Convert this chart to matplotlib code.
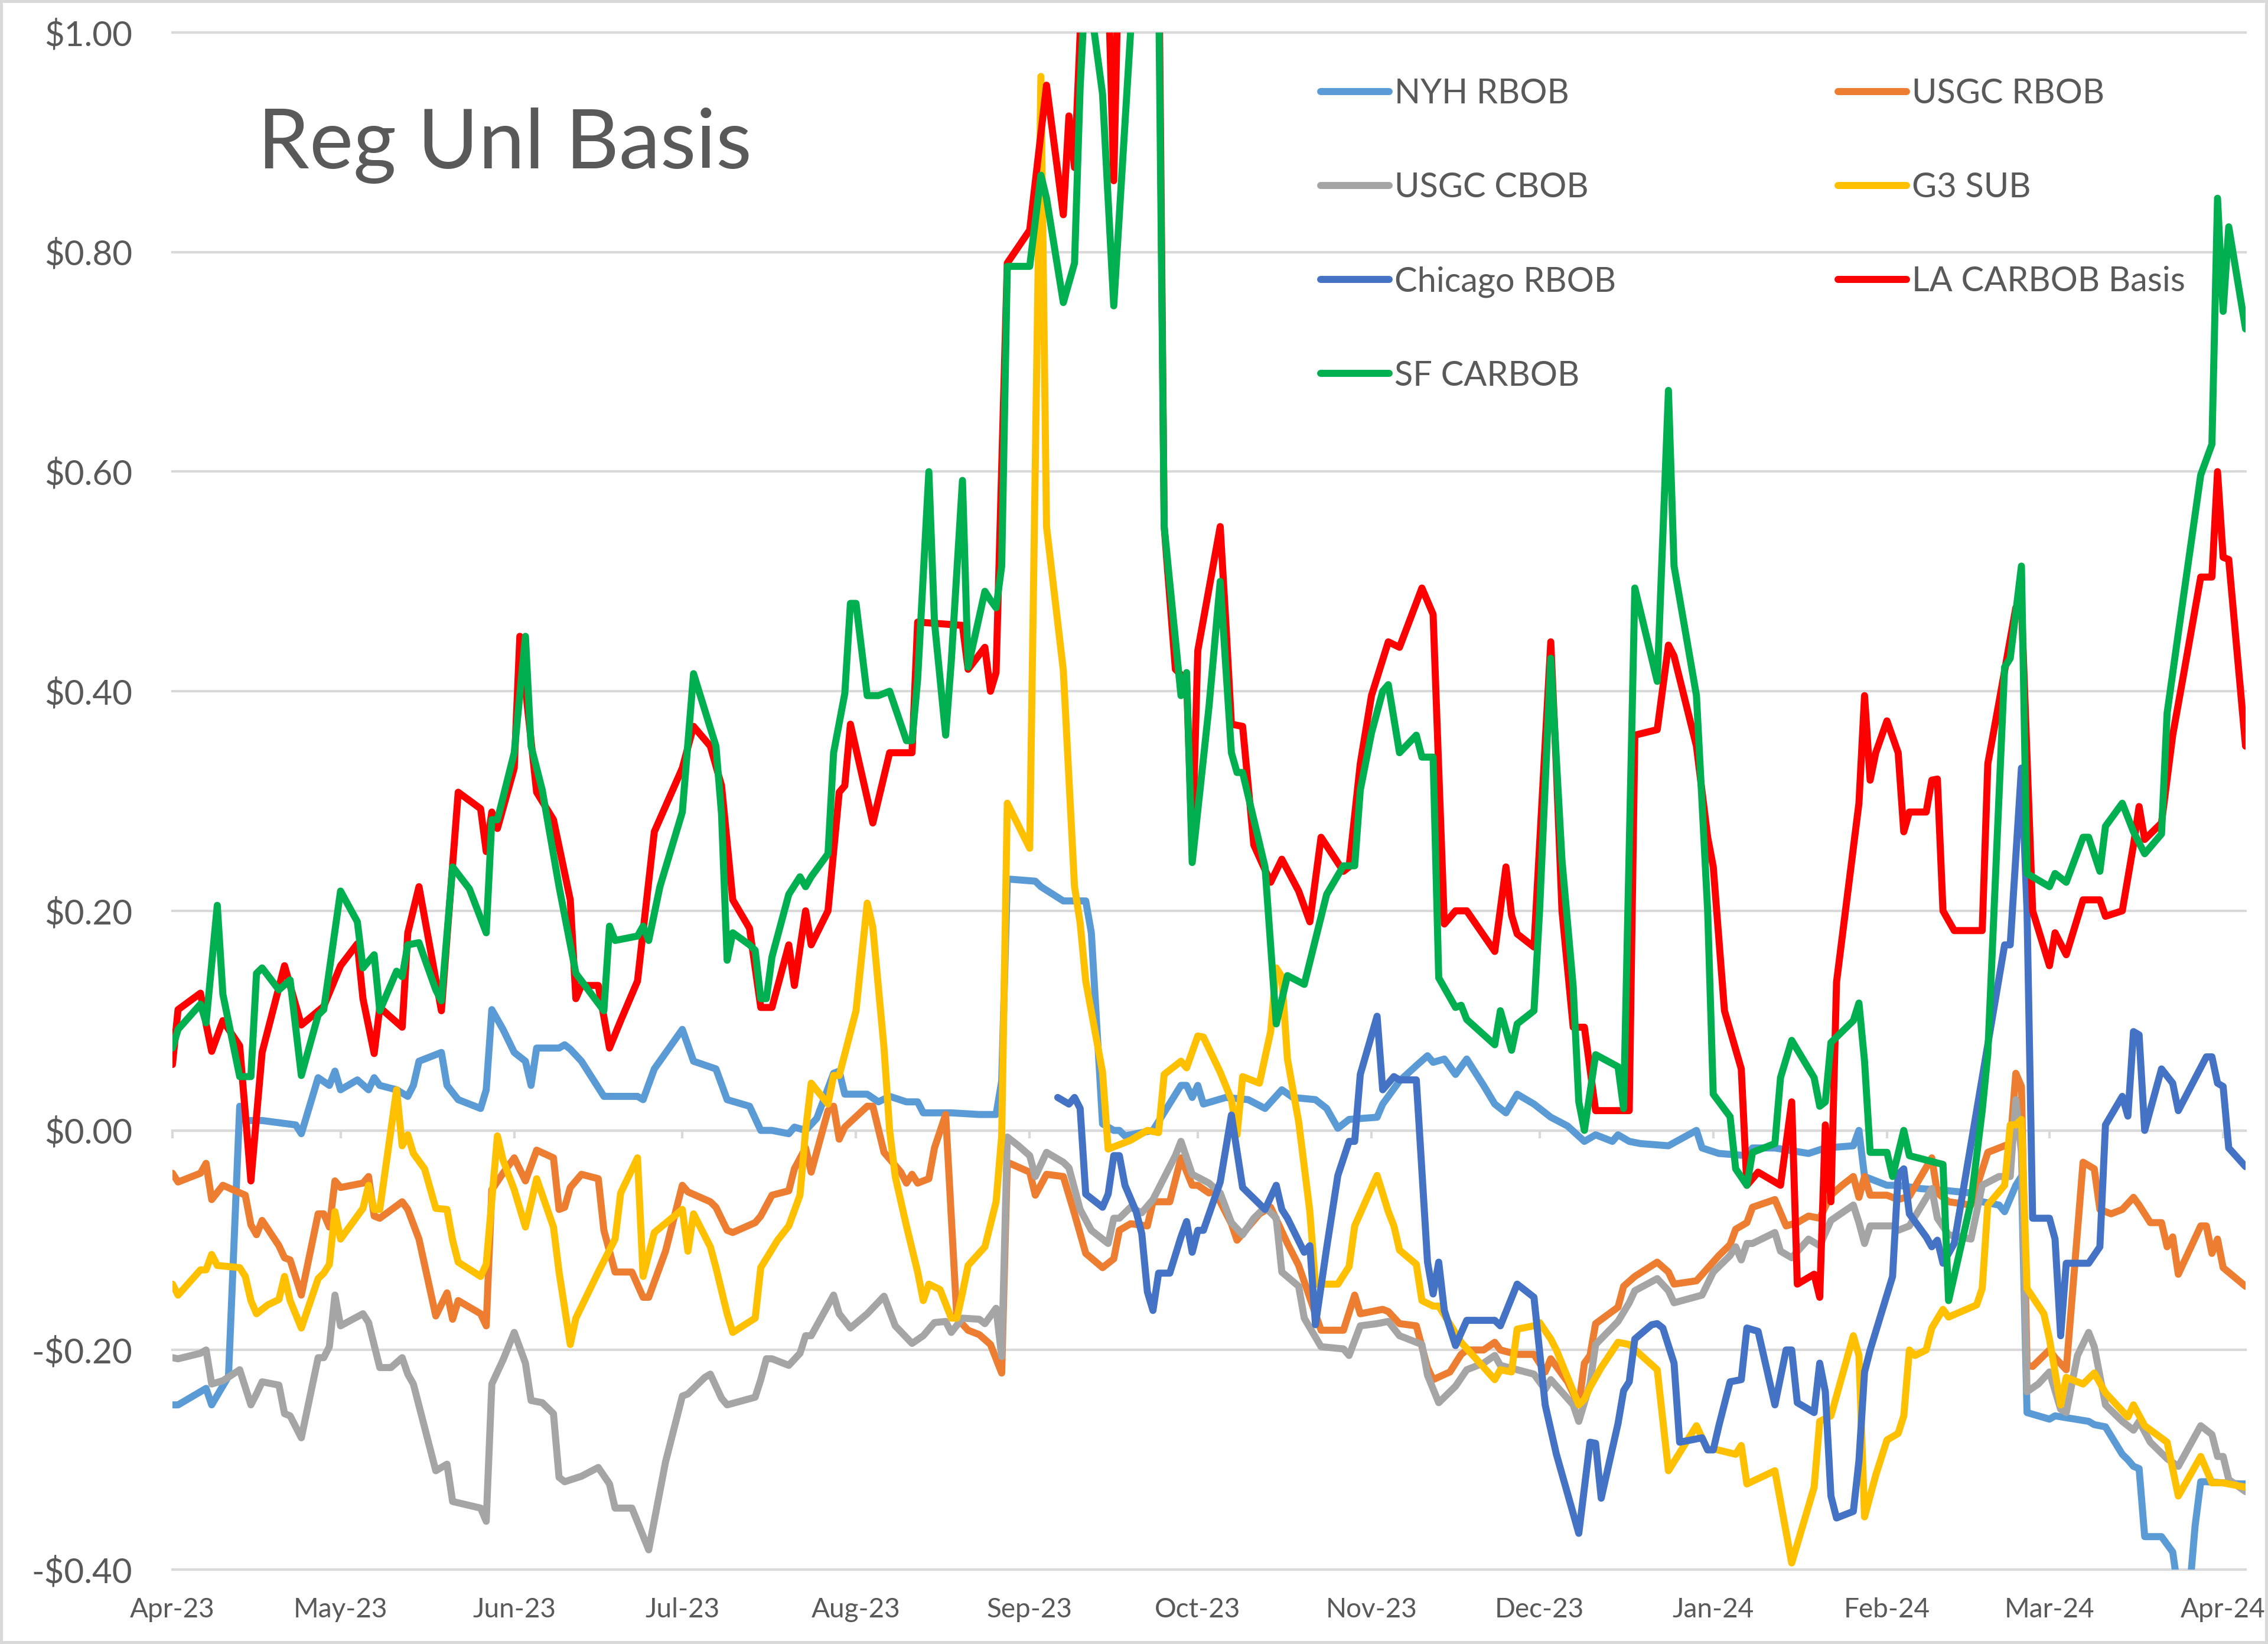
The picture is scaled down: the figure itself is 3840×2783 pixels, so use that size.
import matplotlib
matplotlib.use("Agg")
import matplotlib.pyplot as plt
import matplotlib.dates as mdates
from matplotlib.patches import Rectangle
from matplotlib.ticker import FuncFormatter
import pandas as pd

plt.rcParams['font.family'] = ['Lato', 'DejaVu Sans']

TITLE = 'Reg Unl Basis'
BASE_DATE = '2023-04-01'   # day 0 of every series below
X_END = '2024-04-05'
Y_TICKS = [-0.4, -0.2, 0.0, 0.2, 0.4, 0.6, 0.8, 1.0]

SERIES_NAMES = ['NYH RBOB', 'USGC RBOB', 'USGC CBOB', 'G3 SUB',
                'Chicago RBOB', 'LA CARBOB Basis', 'SF CARBOB']
SERIES_COLORS = ['#5B9BD5', '#ED7D31', '#A5A5A5', '#FFC000',
                 '#4472C4', '#FF0000', '#00B050']

# (days since 2023-04-01, basis $/gal)
NYH_RBOB = [(0,-0.25),(1,-0.25),(6,-0.235),(7,-0.25),(10,-0.224),(12,0.022),(13,0.009),(16,0.009),(19,0.007),(22,0.005),
    (23,-0.003),(26,0.048),(28,0.041),(29,0.054),(30,0.037),(33,0.046),(35,0.037),(36,0.048),(37,0.041),(40,0.037),
    (42,0.031),(43,0.041),(44,0.063),(48,0.071),(49,0.041),(51,0.028),(55,0.02),(56,0.037),(57,0.11),(59,0.092),
    (61,0.071),(63,0.063),(64,0.041),(65,0.075),(69,0.075),(70,0.078),(71,0.074),(73,0.063),(77,0.031),(83,0.031),
    (84,0.028),(86,0.056),(91,0.092),(93,0.063),(97,0.056),(99,0.028),(103,0.022),(105,0.0),(107,0.0),(110,-0.003),
    (111,0.003),(113,0.0),(115,0.011),(118,0.052),(119,0.054),(120,0.033),(124,0.033),(126,0.026),(128,0.031),(131,0.026),
    (133,0.026),(134,0.016),(139,0.016),(144,0.0145),(147,0.0145),(148,0.045),(149,0.229),(154,0.227),(155,0.222),(159,0.209),
    (163,0.209),(164,0.18),(166,0.006),(168,0.0),(169,0.0),(170,-0.005),(175,0.0),(180,0.041),(181,0.041),(182,0.03),
    (183,0.041),(184,0.024),(188,0.03),(192,0.028),(195,0.02),(198,0.037),(200,0.03),(204,0.028),(206,0.02),(208,0.002),
    (210,0.01),(215,0.012),(216,0.024),(219,0.045),(222,0.059),(224,0.068),(225,0.062),(227,0.065),(229,0.051),(231,0.065),
    (234,0.041),(236,0.024),(238,0.016),(240,0.033),(243,0.024),(246,0.012),(249,0.004),(252,-0.01),(254,-0.004),(257,-0.01),
    (258,-0.004),(260,-0.01),(262,-0.012),(267,-0.014),(272,0.0),(273,-0.016),(276,-0.021),(281,-0.023),(282,-0.016),(286,-0.016),
    (292,-0.021),(295,-0.016),(300,-0.014),(301,0.0),(302,-0.042),(306,-0.05),(308,-0.05),(312,-0.053),(317,-0.055),(321,-0.057),
    (323,-0.065),(326,-0.068),(327,-0.074),(329,-0.05),(330,-0.042),(331,-0.257),(335,-0.263),(336,-0.26),(342,-0.265),(343,-0.268),
    (345,-0.27),(348,-0.295),(349,-0.3),(350,-0.306),(351,-0.308),(352,-0.37),(355,-0.37),(357,-0.384),(358,-0.42),(360,-0.42),
    (361,-0.36),(362,-0.32),(363,-0.32),(369,-0.322),(370,-0.322)]

USGC_RBOB = [(0,-0.039),(1,-0.047),(5,-0.039),(6,-0.03),(7,-0.063),(9,-0.05),(13,-0.059),(14,-0.086),(15,-0.095),(16,-0.082),
    (19,-0.105),(20,-0.116),(21,-0.118),(23,-0.15),(26,-0.076),(27,-0.076),(28,-0.088),(29,-0.046),(30,-0.052),(34,-0.048),
    (35,-0.042),(36,-0.078),(37,-0.08),(41,-0.065),(42,-0.072),(44,-0.099),(47,-0.169),(49,-0.148),(50,-0.172),(51,-0.155),
    (55,-0.167),(56,-0.178),(57,-0.054),(59,-0.039),(61,-0.025),(63,-0.046),(65,-0.018),(68,-0.025),(69,-0.072),(70,-0.07),
    (71,-0.052),(73,-0.04),(76,-0.044),(77,-0.091),(79,-0.129),(82,-0.129),(84,-0.152),(85,-0.152),(88,-0.11),(91,-0.05),
    (92,-0.056),(96,-0.065),(97,-0.07),(99,-0.091),(100,-0.093),(104,-0.084),(105,-0.078),(107,-0.059),(110,-0.055),(111,-0.035),
    (113,-0.016),(114,-0.038),(117,0.018),(118,0.022),(119,-0.008),(120,0.003),(124,0.022),(125,0.022),(127,-0.02),(130,-0.038),
    (131,-0.048),(132,-0.04),(133,-0.048),(135,-0.044),(136,-0.016),(138,0.0145),(140,-0.171),(142,-0.182),(144,-0.186),(146,-0.195),
    (148,-0.221),(149,-0.029),(153,-0.038),(154,-0.059),(156,-0.04),(159,-0.042),(161,-0.076),(163,-0.112),(166,-0.125),(168,-0.117),
    (169,-0.091),(171,-0.085),(174,-0.087),(175,-0.065),(178,-0.065),(180,-0.025),(182,-0.05),(183,-0.05),(185,-0.057),(186,-0.055),
    (189,-0.085),(190,-0.1),(194,-0.076),(196,-0.07),(199,-0.103),(201,-0.123),(205,-0.182),(209,-0.182),(211,-0.15),(212,-0.167),
    (216,-0.163),(217,-0.165),(219,-0.176),(222,-0.178),(224,-0.216),(225,-0.227),(228,-0.22),(230,-0.204),(231,-0.2),(234,-0.2),
    (236,-0.193),(237,-0.2),(240,-0.204),(243,-0.204),(245,-0.22),(246,-0.208),(249,-0.229),(251,-0.25),(252,-0.212),(253,-0.205),
    (254,-0.176),(258,-0.161),(259,-0.142),(261,-0.133),(265,-0.12),(267,-0.129),(268,-0.14),(272,-0.137),(276,-0.114),(278,-0.104),
    (279,-0.09),(281,-0.084),(282,-0.07),(286,-0.063),(288,-0.087),(290,-0.084),(292,-0.078),(294,-0.08),(296,-0.059),(298,-0.05),
    (300,-0.042),(301,-0.061),(302,-0.042),(303,-0.059),(306,-0.059),(308,-0.063),(310,-0.06),(314,-0.025),(315,-0.057),(317,-0.065),
    (321,-0.068),(324,-0.02),(327,-0.014),(328,-0.012),(329,0.052),(330,0.04),(331,-0.214),(332,-0.215),(335,-0.2),(336,-0.207),
    (338,-0.218),(341,-0.029),(343,-0.035),(344,-0.072),(346,-0.076),(348,-0.072),(350,-0.061),(351,-0.068),(353,-0.084),(355,-0.084),
    (356,-0.106),(357,-0.097),(358,-0.131),(362,-0.087),(363,-0.087),(364,-0.112),(365,-0.099),(366,-0.125),(370,-0.142)]

USGC_CBOB = [(0,-0.207),(1,-0.208),(5,-0.203),(6,-0.2),(7,-0.231),(9,-0.228),(12,-0.218),(14,-0.25),(15,-0.24),(16,-0.229),
    (19,-0.232),(20,-0.258),(21,-0.26),(23,-0.28),(26,-0.207),(27,-0.207),(28,-0.197),(29,-0.15),(30,-0.178),(34,-0.167),
    (35,-0.175),(37,-0.216),(39,-0.216),(41,-0.207),(42,-0.222),(43,-0.231),(47,-0.31),(49,-0.304),(50,-0.338),(55,-0.344),
    (56,-0.356),(57,-0.231),(59,-0.209),(61,-0.184),(63,-0.212),(64,-0.246),(66,-0.248),(68,-0.258),(69,-0.316),(70,-0.32),
    (73,-0.315),(76,-0.307),(78,-0.322),(79,-0.344),(82,-0.344),(85,-0.382),(88,-0.302),(91,-0.242),(92,-0.24),(95,-0.225),
    (96,-0.222),(98,-0.244),(99,-0.25),(104,-0.243),(105,-0.227),(106,-0.208),(107,-0.208),(110,-0.214),(112,-0.203),(113,-0.187),
    (114,-0.187),(118,-0.15),(119,-0.167),(121,-0.18),(124,-0.167),(127,-0.151),(129,-0.178),(132,-0.194),(134,-0.187),(136,-0.175),
    (138,-0.174),(139,-0.184),(141,-0.171),(144,-0.172),(145,-0.176),(147,-0.162),(148,-0.206),(149,-0.006),(151,-0.014),(153,-0.023),
    (154,-0.042),(156,-0.02),(159,-0.029),(160,-0.034),(162,-0.072),(164,-0.091),(167,-0.103),(168,-0.08),(169,-0.08),(171,-0.07),
    (173,-0.075),(175,-0.063),(176,-0.053),(179,-0.023),(180,-0.01),(182,-0.04),(185,-0.048),(187,-0.057),(189,-0.084),(191,-0.095),
    (193,-0.08),(195,-0.07),(197,-0.08),(198,-0.129),(201,-0.142),(202,-0.171),(205,-0.197),(209,-0.199),(210,-0.205),(212,-0.178),
    (215,-0.176),(217,-0.174),(219,-0.187),(221,-0.191),(223,-0.195),(224,-0.223),(226,-0.248),(229,-0.233),(231,-0.218),(234,-0.212),
    (236,-0.205),(237,-0.214),(240,-0.218),(243,-0.222),(245,-0.236),(246,-0.227),(250,-0.25),(251,-0.265),(253,-0.231),(254,-0.195),
    (258,-0.174),(260,-0.157),(261,-0.146),(265,-0.135),(267,-0.146),(268,-0.157),(273,-0.15),(275,-0.129),(278,-0.114),(279,-0.106),
    (280,-0.118),(281,-0.103),(282,-0.103),(286,-0.093),(287,-0.11),(289,-0.116),(292,-0.099),(294,-0.105),(296,-0.082),(300,-0.068),
    (301,-0.084),(302,-0.103),(303,-0.087),(307,-0.087),(308,-0.091),(310,-0.087),(314,-0.053),(315,-0.08),(317,-0.095),(321,-0.099),
    (323,-0.05),(326,-0.042),(328,-0.042),(329,0.028),(330,-0.02),(331,-0.238),(333,-0.231),(335,-0.22),(337,-0.254),(338,-0.257),
    (340,-0.205),(342,-0.184),(343,-0.197),(345,-0.25),(348,-0.265),(350,-0.273),(351,-0.265),(353,-0.284),(356,-0.299),(358,-0.306),
    (362,-0.269),(364,-0.277),(365,-0.297),(366,-0.297),(367,-0.318),(370,-0.329)]

G3_SUB = [(0,-0.14),(1,-0.15),(5,-0.127),(6,-0.127),(7,-0.113),(8,-0.123),(12,-0.125),(13,-0.133),(14,-0.155),(15,-0.167),
    (17,-0.159),(19,-0.154),(20,-0.133),(21,-0.155),(23,-0.18),(26,-0.135),(27,-0.13),(28,-0.122),(29,-0.074),(30,-0.099),
    (34,-0.071),(35,-0.05),(36,-0.072),(37,-0.072),(40,0.037),(41,-0.014),(42,-0.004),(43,-0.021),(45,-0.035),(47,-0.071),
    (49,-0.072),(50,-0.1),(51,-0.12),(55,-0.133),(56,-0.122),(58,-0.005),(59,-0.027),(61,-0.054),(63,-0.088),(65,-0.044),
    (68,-0.088),(69,-0.129),(71,-0.195),(72,-0.171),(76,-0.129),(79,-0.099),(80,-0.057),(83,-0.025),(84,-0.133),(86,-0.093),
    (91,-0.072),(92,-0.11),(93,-0.076),(96,-0.106),(97,-0.125),(99,-0.167),(100,-0.184),(104,-0.171),(105,-0.125),(108,-0.1),
    (110,-0.087),(112,-0.059),(113,0.0),(114,0.043),(117,0.024),(118,0.05),(119,0.05),(122,0.109),(124,0.207),(125,0.185),
    (127,0.075),(128,0.0),(129,-0.042),(131,-0.087),(133,-0.129),(134,-0.155),(135,-0.14),(137,-0.145),(139,-0.171),(140,-0.171),
    (141,-0.148),(142,-0.123),(145,-0.106),(147,-0.065),(148,-0.005),(149,0.298),(153,0.257),(155,0.96),(156,0.55),(159,0.419),
    (161,0.222),(162,0.189),(163,0.136),(166,0.053),(167,-0.017),(168,-0.015),(171,-0.009),(174,0.0),(176,-0.002),(177,0.051),
    (180,0.063),(181,0.057),(183,0.086),(184,0.085),(187,0.053),(189,0.028),(190,-0.004),(191,0.049),(194,0.043),(196,0.09),
    (197,0.148),(198,0.14),(199,0.065),(201,0.008),(203,-0.074),(204,-0.14),(208,-0.14),(210,-0.124),(211,-0.087),(215,-0.041),
    (217,-0.074),(218,-0.087),(219,-0.109),(222,-0.122),(223,-0.155),(225,-0.16),(226,-0.16),(230,-0.193),(233,-0.21),(236,-0.227),
    (237,-0.218),(239,-0.22),(240,-0.181),(243,-0.178),(244,-0.175),(246,-0.19),(247,-0.2),(251,-0.25),(252,-0.245),(253,-0.234),
    (255,-0.216),(258,-0.193),(260,-0.195),(265,-0.218),(267,-0.31),(272,-0.269),(274,-0.291),(275,-0.29),(279,-0.295),(280,-0.287),
    (281,-0.322),(286,-0.31),(289,-0.394),(293,-0.325),(294,-0.265),(296,-0.26),(300,-0.187),(301,-0.205),(302,-0.352),(304,-0.314),
    (306,-0.282),(308,-0.276),(309,-0.26),(310,-0.2),(311,-0.205),(313,-0.2),(314,-0.18),(316,-0.163),(317,-0.17),(322,-0.159),
    (323,-0.144),(324,-0.068),(327,-0.05),(328,0.005),(329,0.005),(330,0.01),(331,-0.144),(334,-0.167),(335,-0.19),(337,-0.25),
    (338,-0.225),(341,-0.231),(343,-0.221),(345,-0.239),(349,-0.261),(350,-0.25),(352,-0.269),(356,-0.284),(358,-0.333),(362,-0.297),
    (364,-0.321),(366,-0.321),(370,-0.325)]

CHICAGO_RBOB = [(158,0.03),(160,0.024),(161,0.03),(162,0.02),(163,-0.058),(166,-0.07),(167,-0.058),(168,-0.023),(169,-0.023),(170,-0.05),
    (172,-0.074),(173,-0.094),(174,-0.147),(175,-0.164),(176,-0.13),(178,-0.13),(180,-0.097),(181,-0.083),(182,-0.111),(183,-0.091),
    (184,-0.091),(187,-0.047),(189,0.014),(191,-0.052),(195,-0.072),(197,-0.05),(198,-0.072),(199,-0.08),(202,-0.111),(203,-0.105),
    (204,-0.177),(206,-0.107),(208,-0.041),(210,-0.01),(211,-0.01),(212,0.051),(215,0.104),(216,0.037),(218,0.049),(219,0.046),
    (222,0.046),(224,-0.12),(225,-0.149),(226,-0.12),(227,-0.164),(229,-0.196),(231,-0.173),(236,-0.173),(237,-0.178),(240,-0.14),
    (243,-0.152),(245,-0.25),(247,-0.295),(251,-0.367),(253,-0.284),(254,-0.285),(255,-0.335),(258,-0.267),(259,-0.237),(260,-0.229),
    (261,-0.19),(264,-0.177),(265,-0.176),(266,-0.18),(268,-0.212),(269,-0.284),(273,-0.28),(274,-0.291),(275,-0.291),(276,-0.269),
    (278,-0.229),(280,-0.227),(281,-0.18),(283,-0.183),(286,-0.25),(288,-0.2),(289,-0.2),(290,-0.248),(293,-0.257),(294,-0.212),
    (295,-0.238),(296,-0.333),(297,-0.353),(300,-0.347),(301,-0.301),(302,-0.22),(303,-0.2),(307,-0.133),(308,-0.04),(309,-0.035),
    (310,-0.076),(313,-0.097),(314,-0.106),(315,-0.1),(316,-0.121),(318,-0.103),(323,0.048),(327,0.169),(328,0.169),(330,0.33),
    (331,0.2),(332,-0.08),(335,-0.08),(336,-0.099),(337,-0.187),(338,-0.121),(342,-0.121),(344,-0.106),(345,0.005),(348,0.031),
    (349,0.013),(350,0.09),(351,0.087),(352,0.0),(355,0.056),(357,0.043),(358,0.018),(363,0.067),(364,0.067),(365,0.043),
    (366,0.04),(367,-0.016),(370,-0.033)]

LA_CARBOB = [(0,0.06),(1,0.11),(5,0.125),(6,0.097),(7,0.072),(9,0.10),(12,0.077),(14,-0.046),(16,0.071),(20,0.15),
    (23,0.096),(27,0.113),(30,0.15),(33,0.17),(34,0.12),(36,0.07),(37,0.112),(41,0.094),(42,0.18),(44,0.222),
    (48,0.109),(51,0.308),(55,0.293),(56,0.254),(57,0.29),(58,0.275),(61,0.33),(62,0.45),(65,0.308),(68,0.283),
    (71,0.21),(72,0.12),(73,0.132),(76,0.132),(78,0.075),(80,0.10),(83,0.136),(86,0.272),(91,0.33),(93,0.368),
    (96,0.35),(98,0.314),(100,0.21),(103,0.184),(105,0.112),(107,0.112),(110,0.169),(111,0.132),(113,0.2),(114,0.169),
    (117,0.2),(119,0.308),(120,0.314),(121,0.37),(125,0.28),(128,0.344),(132,0.344),(133,0.463),(141,0.46),(142,0.42),
    (145,0.44),(146,0.40),(147,0.417),(149,0.79),(153,0.82),(156,0.952),(159,0.834),(160,0.924),(161,0.877),(163,1.12),
    (165,1.10),(167,1.05),(168,0.865),(169,1.1),(172,1.2),(174,1.15),(176,1.1),(177,0.55),(179,0.42),(181,0.41),
    (182,0.257),(183,0.437),(187,0.55),(188,0.463),(189,0.37),(191,0.368),(193,0.26),(196,0.226),(198,0.247),(201,0.218),
    (203,0.19),(205,0.267),(209,0.236),(210,0.24),(212,0.334),(214,0.396),(217,0.445),(219,0.44),(223,0.494),(225,0.47),
    (227,0.188),(229,0.2),(231,0.2),(236,0.163),(238,0.24),(239,0.196),(240,0.179),(243,0.167),(246,0.445),(247,0.33),
    (248,0.2),(250,0.094),(252,0.094),(254,0.018),(260,0.018),(261,0.36),(265,0.365),(267,0.442),(268,0.432),(272,0.35),
    (274,0.267),(275,0.24),(277,0.109),(280,0.056),(281,-0.05),(283,-0.038),(287,-0.05),(289,0.026),(290,-0.14),(293,-0.131),
    (294,-0.152),(295,0.005),(296,-0.065),(297,0.135),(301,0.298),(302,0.396),(303,0.319),(304,0.344),(306,0.373),(308,0.344),
    (309,0.272),(310,0.29),(313,0.29),(314,0.319),(315,0.32),(316,0.2),(318,0.182),(323,0.182),(324,0.334),(326,0.39),
    (329,0.476),(330,0.48),(332,0.2),(335,0.15),(336,0.18),(338,0.16),(341,0.21),(344,0.21),(345,0.195),(348,0.2),
    (350,0.26),(351,0.295),(352,0.265),(355,0.28),(357,0.36),(359,0.417),(362,0.504),(364,0.504),(365,0.60),(366,0.522),
    (367,0.52),(370,0.35)]

SF_CARBOB = [(0,0.075),(1,0.092),(5,0.115),(6,0.098),(8,0.205),(9,0.124),(12,0.049),(14,0.049),(15,0.143),(16,0.148),
    (19,0.128),(21,0.137),(23,0.05),(26,0.105),(27,0.11),(30,0.218),(33,0.19),(34,0.148),(36,0.16),(37,0.109),
    (40,0.145),(41,0.14),(42,0.169),(44,0.171),(47,0.128),(48,0.118),(50,0.24),(53,0.22),(56,0.18),(57,0.283),
    (58,0.283),(61,0.344),(63,0.45),(64,0.35),(66,0.31),(69,0.222),(72,0.143),(77,0.109),(78,0.186),(79,0.173),
    (83,0.177),(84,0.186),(85,0.173),(87,0.222),(91,0.29),(93,0.416),(97,0.35),(98,0.288),(99,0.155),(100,0.18),
    (103,0.169),(104,0.164),(105,0.12),(106,0.12),(107,0.158),(110,0.215),(112,0.231),(113,0.222),(114,0.231),(117,0.252),
    (118,0.344),(120,0.398),(121,0.48),(122,0.48),(124,0.396),(126,0.396),(128,0.40),(131,0.355),(132,0.355),(133,0.411),
    (135,0.60),(136,0.463),(138,0.36),(139,0.427),(141,0.592),(142,0.422),(145,0.491),(146,0.483),(147,0.476),(148,0.514),
    (149,0.787),(153,0.787),(155,0.87),(156,0.849),(159,0.754),(161,0.79),(162,0.95),(163,1.05),(164,1.02),(166,0.944),
    (168,0.751),(171,1.0),(173,1.2),(175,1.15),(176,1.05),(177,0.55),(180,0.396),(181,0.417),(182,0.244),(185,0.386),
    (187,0.50),(189,0.344),(190,0.326),(191,0.326),(195,0.24),(197,0.097),(199,0.141),(202,0.133),(206,0.215),(209,0.241),
    (211,0.241),(212,0.31),(214,0.362),(216,0.40),(217,0.406),(219,0.344),(222,0.36),(223,0.34),(225,0.34),(226,0.139),
    (229,0.112),(230,0.114),(231,0.101),(236,0.078),(237,0.109),(239,0.073),(240,0.097),(243,0.109),(244,0.2),(246,0.43),
    (248,0.246),(250,0.131),(251,0.026),(252,0.0),(254,0.069),(258,0.058),(259,0.02),(261,0.494),(265,0.409),(267,0.674),
    (268,0.514),(272,0.396),(274,0.2),(275,0.033),(278,0.0125),(279,-0.035),(281,-0.05),(282,-0.02),(286,-0.012),(287,0.048),
    (289,0.082),(293,0.048),(294,0.022),(295,0.026),(296,0.08),(300,0.10),(301,0.116),(302,0.063),(303,-0.02),(306,-0.02),
    (307,-0.042),(309,0.0),(310,-0.023),(316,-0.031),(317,-0.155),(321,-0.065),(323,0.018),(324,0.07),(327,0.422),(328,0.43),
    (330,0.514),(331,0.234),(335,0.222),(336,0.234),(338,0.226),(341,0.267),(342,0.267),(344,0.236),(345,0.277),(348,0.298),
    (350,0.272),(352,0.252),(355,0.27),(356,0.38),(358,0.453),(362,0.597),(364,0.625),(365,0.849),(366,0.746),(367,0.823),
    (370,0.73)]

SERIES_DATA = [NYH_RBOB, USGC_RBOB, USGC_CBOB, G3_SUB, CHICAGO_RBOB, LA_CARBOB, SF_CARBOB]

TEXT_COLOR = '#595959'
GRID_COLOR = '#D9D9D9'

fig = plt.figure(figsize=(19.2, 13.915), dpi=200)
ax = fig.add_axes([0.07604, 0.045275, 0.91406, 0.934962])

base = pd.Timestamp(BASE_DATE)
handles = []
for name, pts, color in zip(SERIES_NAMES, SERIES_DATA, SERIES_COLORS):
    days = [p[0] for p in pts]
    vals = [p[1] for p in pts]
    dates = base + pd.to_timedelta(days, unit='D')
    h, = ax.plot(dates, vals, color=color, lw=4.3, label=name,
                 solid_capstyle='round', solid_joinstyle='round')
    handles.append(h)

ax.set_xlim(base, pd.Timestamp(X_END))
ax.set_ylim(Y_TICKS[0], Y_TICKS[-1])
ax.set_yticks(Y_TICKS)


def money(v, _pos=None):
    if abs(v) < 1e-9:
        return '$0.00'
    return ('-$%.2f' % abs(v)) if v < 0 else ('$%.2f' % v)


ax.yaxis.set_major_formatter(FuncFormatter(money))
ax.xaxis.set_major_locator(mdates.MonthLocator())
ax.xaxis.set_major_formatter(mdates.DateFormatter('%b-%y'))

for s in ax.spines.values():
    s.set_visible(False)
ax.yaxis.grid(True, color=GRID_COLOR, lw=1.5)
ax.set_axisbelow(True)
for gl in ax.get_ygridlines():
    gl.set_clip_on(False)
ax.tick_params(axis='y', length=0, pad=24.5, labelsize=21, labelcolor=TEXT_COLOR)
ax.tick_params(axis='x', length=0, pad=17, labelsize=16.5, labelcolor=TEXT_COLOR)

# horizontal axis line with month tick marks, crossing at $0.00
sec = ax.secondary_xaxis(0.0, transform=ax.transData)
sec.xaxis.set_major_locator(mdates.MonthLocator())
sec.tick_params(axis='x', direction='out', length=4.7, width=1.5,
                color=GRID_COLOR, labelbottom=False)
for k, s in sec.spines.items():
    s.set_color(GRID_COLOR)
    s.set_linewidth(1.5)

fig.text(436 / 3840, 1 - 285 / 2783, TITLE, fontsize=50.5, color=TEXT_COLOR,
         ha='left', va='baseline')

order = [0, 2, 4, 6, 1, 3, 5]
leg = fig.legend([handles[i] for i in order], [SERIES_NAMES[i] for i in order],
                 ncol=2, loc='upper left',
                 bbox_to_anchor=(2236 / 3840, 1 - 132 / 2783),
                 bbox_transform=fig.transFigure, frameon=False,
                 fontsize=20.8, handlelength=2.0, handletextpad=0.17,
                 columnspacing=6.5, labelspacing=1.835, borderpad=0,
                 borderaxespad=0)
for t in leg.get_texts():
    t.set_color(TEXT_COLOR)

fig.add_artist(Rectangle((0, 0), 1, 1, transform=fig.transFigure, fill=False,
                         edgecolor=GRID_COLOR, lw=3.6))

fig.savefig('out.png', dpi=200)
